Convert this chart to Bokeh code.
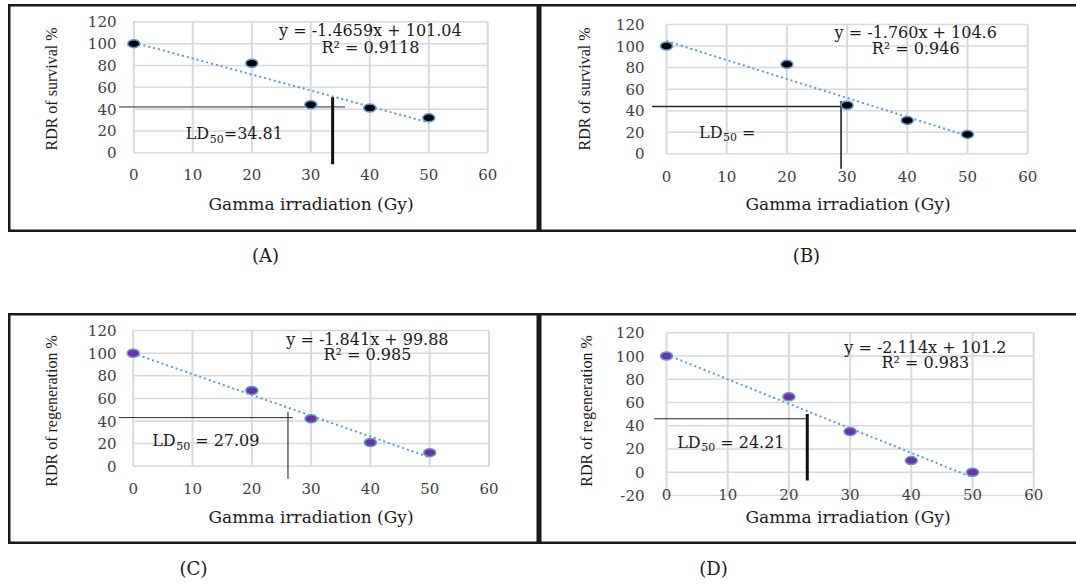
from bokeh.plotting import figure
from bokeh.layouts import column, row
from bokeh.models import Range1d, FixedTicker, Label, Spacer
from bokeh.embed import file_html
from bokeh.resources import INLINE

# ---------------- data ----------------
dose = [0, 20, 30, 40, 50]
survival_a = [100, 82, 44, 41, 32]
survival_b = [100, 83, 45, 31, 18]
regeneration_c = [100, 67, 42, 21, 12]
regeneration_d = [100, 65, 35, 10, 0]

x_ticks = [0, 10, 20, 30, 40, 50, 60]
y_ticks_abc = [0, 20, 40, 60, 80, 100, 120]
y_ticks_d = [-20, 0, 20, 40, 60, 80, 100, 120]

slopes = [-1.4659, -1.760, -1.841, -2.114]
intercepts = [101.04, 104.6, 99.88, 101.2]
equations = ["y = -1.4659x + 101.04", "y = -1.760x + 104.6",
             "y = -1.841x + 99.88", "y = -2.114x + 101.2"]
r_squared = ["R\u00b2 = 0.9118", "R\u00b2 = 0.946", "R\u00b2 = 0.985", "R\u00b2 = 0.983"]
ld_values = ["=34.81", "=", "= 27.09", "= 24.21"]
captions = ["(A)", "(B)", "(C)", "(D)"]
y_titles = ["RDR of survival %", "RDR of survival %",
            "RDR of regeneration %", "RDR of regeneration %"]
x_title = "Gamma irradiation (Gy)"

# LD50 guide lines drawn by the authors
ld_dose = [33.7, 29.0, 26.1, 23.0]
ld_level = [42, 44, 43, 46]
ld_h_from = [-2.5, -2.4, -2.4, -2.0]
ld_h_to = [35.8, 29.0, 26.9, 23.0]
ld_v_top = [51, 49, 48, 50]
ld_v_bottom = [-10.5, -13.9, -11.2, -7.2]

# ---------------- layout (page pixels) ----------------
INK = "#1a1a1a"
geoms = [
    dict(o=(8, 4), W=531, H=228, x0=133.3, sx=5.9, y0=152.3, sy=1.0917,
         L=118, R=503, T=5, B=172, tso=-4, yls=25, xls=11,
         eq=(40.1, 112), r2=(40.1, 96.7), ld=(8.8, 17.4), ldo=38, hw=1, vw=3,
         fill="#000000", yt=y_ticks_abc, sides="LTRB"),
    dict(o=(539, 4), W=537, H=228, x0=666, sx=6.02, y0=153.3, sy=1.0778,
         L=646, R=1049, T=5, B=172, tso=-2, yls=20, xls=9,
         eq=(41.4, 112.8), r2=(41.4, 97.4), ld=(5.4, 20), ldo=43, hw=1.5, vw=1.5,
         fill="#000000", yt=y_ticks_abc, sides="LTB"),
    dict(o=(8, 313), W=531, H=231, x0=132.7, sx=5.93, y0=465.7, sy=1.13,
         L=118, R=503, T=325, B=496, tso=-14, yls=25, xls=10,
         eq=(39.5, 112.1), r2=(39.5, 98.6), ld=(3.2, 22.7), ldo=43, hw=1, vw=1,
         fill="#7030a0", yt=y_ticks_abc, sides="LTRB"),
    dict(o=(539, 313), W=537, H=231, x0=666, sx=6.12, y0=471.7, sy=1.1617,
         L=646, R=1049, T=325, B=496, tso=-8, yls=18, xls=4,
         eq=(42.3, 107.6), r2=(42.3, 94.2), ld=(1.75, 25.8), ldo=43, hw=1, vw=3,
         fill="#7030a0", yt=y_ticks_d, sides="LTB"),
]
series = [survival_a, survival_b, regeneration_c, regeneration_d]

SERIF = "DejaVu Serif"
BLUE = "#5b9bd5"
GRID = "#d9d9d9"


def border_css(sides):
    parts = []
    w = "2.5px"
    if "L" in sides:
        parts.append(f"inset {w} 0 0 0 {INK}")
    if "R" in sides:
        parts.append(f"inset -{w} 0 0 0 {INK}")
    if "T" in sides:
        parts.append(f"inset 0 {w} 0 0 {INK}")
    if "B" in sides:
        parts.append(f"inset 0 -{w} 0 0 {INK}")
    return {"box-shadow": ", ".join(parts)}


def panel(i):
    g = geoms[i]
    ox, oy = g["o"]
    fl, fr, ft, fb = g["L"] - ox, g["R"] - ox, g["T"] - oy, g["B"] - oy
    xs0 = (g["L"] - g["x0"]) / g["sx"]
    xs1 = (g["R"] - g["x0"]) / g["sx"]
    ys0 = (g["y0"] - g["B"]) / g["sy"]
    ys1 = (g["y0"] - g["T"]) / g["sy"]
    p = figure(width=g["W"], height=g["H"], x_range=Range1d(xs0, xs1), y_range=Range1d(ys0, ys1),
               toolbar_location=None, output_backend="svg", title=None,
               min_border_left=fl, min_border_right=g["W"] - fr,
               min_border_top=ft, min_border_bottom=g["H"] - fb,
               styles=border_css(g["sides"]))
    p.outline_line_color = None
    p.grid.visible = False
    p.background_fill_color = None
    p.border_fill_color = None

    yt = g["yt"]
    # grid lines
    p.segment(x0=x_ticks, y0=[yt[0]] * len(x_ticks), x1=x_ticks, y1=[yt[-1]] * len(x_ticks),
              line_color=GRID, line_width=2)
    p.segment(x0=[x_ticks[0]] * len(yt), y0=yt, x1=[x_ticks[-1]] * len(yt), y1=yt,
              line_color=GRID, line_width=1.5)

    # LD50 guide lines
    p.segment(x0=[ld_h_from[i]], y0=[ld_level[i]], x1=[ld_h_to[i]], y1=[ld_level[i]],
              line_color="#262626", line_width=g["hw"])
    p.segment(x0=[ld_dose[i]], y0=[ld_v_bottom[i]], x1=[ld_dose[i]], y1=[ld_v_top[i]],
              line_color="#111111", line_width=g["vw"])

    # trend line
    tx = [dose[0], dose[-1]]
    ty = [intercepts[i] + slopes[i] * v for v in tx]
    p.line(tx, ty, line_color=BLUE, line_width=2, line_dash="2 3")

    # points
    p.ellipse(x=dose, y=series[i], width=12, height=8, width_units="screen",
              height_units="screen", fill_color=g["fill"], line_color=BLUE, line_width=1.5)

    # axes
    for ax, ticks in ((p.xaxis, x_ticks), (p.yaxis, yt)):
        ax.ticker = FixedTicker(ticks=ticks)
        ax.axis_line_color = None
        ax.major_tick_line_color = None
        ax.minor_tick_line_color = None
        ax.major_tick_in = 0
        ax.major_tick_out = 0
        ax.major_label_text_font = SERIF
        ax.major_label_text_font_size = "15px"
        ax.major_label_text_color = "#404040"
        ax.axis_label_text_font_style = "normal"
        ax.axis_label_text_color = INK
    p.yaxis.major_label_overrides = {t: str(t) for t in yt if t < 0}
    p.xaxis.major_label_standoff = g["tso"]
    p.yaxis.major_label_standoff = 2
    p.xaxis.axis_label = x_title
    p.xaxis.axis_label_text_font = SERIF
    p.xaxis.axis_label_text_font_size = "17px"
    p.xaxis.axis_label_standoff = g["xls"]
    p.yaxis.axis_label = y_titles[i]
    p.yaxis.axis_label_text_font = "Liberation Serif"
    p.yaxis.axis_label_text_font_size = "16px"
    p.yaxis.axis_label_standoff = g["yls"]

    # equation labels
    for txt, pos in ((equations[i], g["eq"]), (r_squared[i], g["r2"])):
        p.add_layout(Label(x=pos[0], y=pos[1], text=txt, text_align="center",
                           text_baseline="middle", text_font=SERIF, text_font_size="16px",
                           text_color=INK))
    lx, ly = g["ld"]
    p.add_layout(Label(x=lx, y=ly, text="LD", text_align="left", text_baseline="middle",
                       text_font=SERIF, text_font_size="16px", text_color=INK))
    p.add_layout(Label(x=lx, y=ly, text="50", x_offset=24, y_offset=-5, text_align="left",
                       text_baseline="middle", text_font=SERIF, text_font_size="11px",
                       text_color=INK))
    p.add_layout(Label(x=lx, y=ly, text=ld_values[i], x_offset=g["ldo"], text_align="left",
                       text_baseline="middle", text_font=SERIF, text_font_size="16px",
                       text_color=INK))
    return p


def caption_strip(h, items):
    """A blank strip holding the panel letters; items = [(text, page_x, y_in_strip)]."""
    p = figure(width=1068, height=h, x_range=Range1d(8, 1076), y_range=Range1d(h, 0),
               toolbar_location=None, output_backend="svg", title=None, min_border=0,
               x_axis_location=None, y_axis_location=None)
    p.outline_line_color = None
    p.grid.visible = False
    p.background_fill_color = None
    p.border_fill_color = None
    for txt, cx, cy in items:
        p.add_layout(Label(x=cx, y=cy, text=txt, text_align="center", text_baseline="middle",
                           text_font=SERIF, text_font_size="18px", text_color=INK))
    return p


pa, pb, pc, pd = [panel(i) for i in range(4)]

cap1 = caption_strip(81, [(captions[0], 265, 255 - 232), (captions[1], 806, 255 - 232)])
cap2 = caption_strip(38, [(captions[2], 193, 568 - 544), (captions[3], 713, 568 - 544)])

layout = column(Spacer(width=1076, height=4),
                row(Spacer(width=8, height=228), pa, pb),
                row(Spacer(width=8, height=81), cap1),
                row(Spacer(width=8, height=231), pc, pd),
                row(Spacer(width=8, height=38), cap2))
open("out.html", "w").write(file_html(layout, INLINE))
